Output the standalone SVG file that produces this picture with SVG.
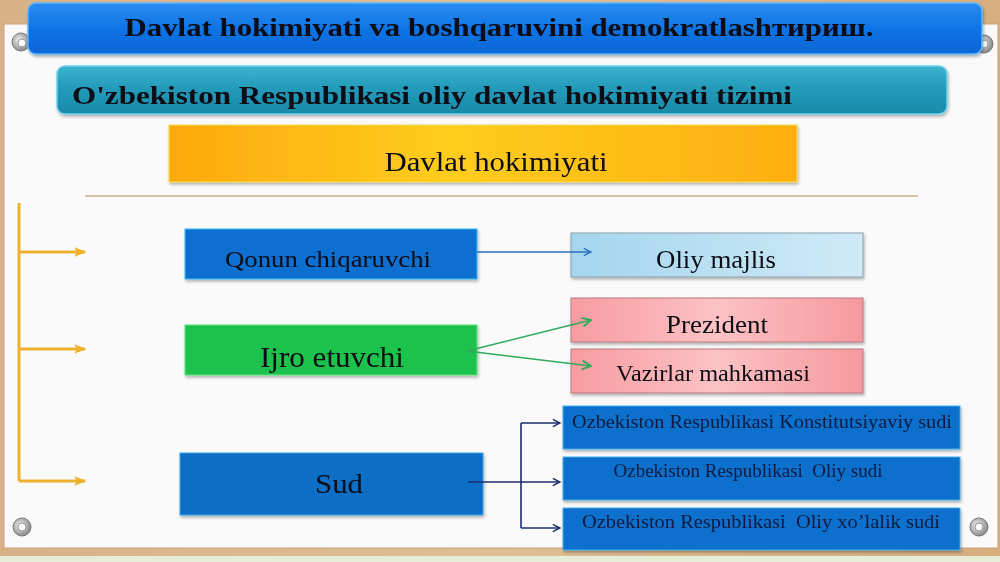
<svg xmlns="http://www.w3.org/2000/svg" width="1000" height="562" viewBox="0 0 1000 562">
<defs>
<linearGradient id="wood" x1="0" y1="0" x2="1" y2="0">
<stop offset="0" stop-color="#d8b286"/><stop offset="0.5" stop-color="#e0bf95"/><stop offset="1" stop-color="#d6ae80"/>
</linearGradient>
<linearGradient id="gTitle" x1="0" y1="0" x2="0" y2="1">
<stop offset="0" stop-color="#2a8cf2"/><stop offset="0.5" stop-color="#0f74e6"/><stop offset="1" stop-color="#0a66d6"/>
</linearGradient>
<linearGradient id="gTeal" x1="0" y1="0" x2="0" y2="1">
<stop offset="0" stop-color="#3bb3cf"/><stop offset="0.5" stop-color="#2299b8"/><stop offset="1" stop-color="#1a8aa8"/>
</linearGradient>
<linearGradient id="gOrange" x1="0" y1="0" x2="1" y2="0">
<stop offset="0" stop-color="#fca90e"/><stop offset="0.45" stop-color="#ffcd1e"/><stop offset="1" stop-color="#fcae10"/>
</linearGradient>
<linearGradient id="gLight" x1="0" y1="0" x2="1" y2="0">
<stop offset="0" stop-color="#a4d6ee"/><stop offset="1" stop-color="#d0eaf7"/>
</linearGradient>
<linearGradient id="gPink" x1="0" y1="0" x2="1" y2="0">
<stop offset="0" stop-color="#f79ca1"/><stop offset="0.5" stop-color="#fcc2c4"/><stop offset="1" stop-color="#f6999e"/>
</linearGradient>
<radialGradient id="gGrom" cx="0.4" cy="0.4" r="0.6">
<stop offset="0" stop-color="#f2f2f2"/><stop offset="1" stop-color="#8a8a8a"/>
</radialGradient>
<filter id="sh" x="-5%" y="-20%" width="110%" height="150%">
<feDropShadow dx="1" dy="2" stdDeviation="1.5" flood-color="#000" flood-opacity="0.3"/>
</filter>
<marker id="mBlue" viewBox="0 0 10 10" refX="9" refY="5" markerWidth="9" markerHeight="9" orient="auto" markerUnits="userSpaceOnUse">
<path d="M1,1 L9,5 L1,9" fill="none" stroke="#2a6fc0" stroke-width="1.6"/>
</marker>
<marker id="mGreen" viewBox="0 0 10 10" refX="9" refY="5" markerWidth="11" markerHeight="11" orient="auto" markerUnits="userSpaceOnUse">
<path d="M1,1 L9,5 L1,9" fill="none" stroke="#2faa5a" stroke-width="1.8"/>
</marker>
<marker id="mNavy" viewBox="0 0 10 10" refX="9" refY="5" markerWidth="9" markerHeight="9" orient="auto" markerUnits="userSpaceOnUse">
<path d="M1,1 L9,5 L1,9" fill="none" stroke="#1c2c6c" stroke-width="1.6"/>
</marker>
<marker id="mOrange" viewBox="0 0 10 10" refX="8" refY="5" markerWidth="15" markerHeight="15" orient="auto" markerUnits="userSpaceOnUse">
<path d="M1,1.8 L9,5 L1,8.2 L2.5,5 Z" fill="#efb12c"/>
</marker>
</defs>
<style>
text{font-family:"Liberation Serif","Times New Roman",Times,serif}
.bold{font-weight:bold}
.t{fill:#0b0b14}
.navy{fill:#0e1a40}
.grom{fill:url(#gGrom);stroke:#777;stroke-width:1}
.gromIn{fill:#fafafa;stroke:#999;stroke-width:1}
</style>

<!-- background -->
<rect x="0" y="0" width="1000" height="562" fill="url(#wood)"/>
<rect x="0" y="556" width="1000" height="6" fill="#e6ecd6"/>
<rect x="4" y="24" width="994" height="524" fill="#fafafa"/>
<rect x="4" y="24" width="994" height="524" fill="none" stroke="#c9a27a" stroke-width="1"/>

<!-- grommets -->
<g id="grommets">
<circle class="grom" cx="21" cy="42" r="9"/><circle class="gromIn" cx="22" cy="43" r="4"/>
<circle class="grom" cx="984" cy="44" r="9"/><circle class="gromIn" cx="984" cy="44" r="4"/>
<circle class="grom" cx="22" cy="527" r="9"/><circle class="gromIn" cx="22" cy="527" r="4"/>
<circle class="grom" cx="979" cy="527" r="9"/><circle class="gromIn" cx="979" cy="527" r="4"/>
</g>

<!-- title -->
<g id="title" filter="url(#sh)">
<rect x="28" y="3" width="954" height="51" rx="8" fill="url(#gTitle)" stroke="#5ab8ff" stroke-width="1.5"/>
<text class="bold t" x="499" y="36" font-family="Liberation Serif" font-size="26" text-anchor="middle" textLength="749" lengthAdjust="spacingAndGlyphs">Davlat hokimiyati va boshqaruvini demokratlashтириш.</text>
</g>

<g id="subtitle" filter="url(#sh)">
<rect x="57" y="66" width="890" height="48" rx="8" fill="url(#gTeal)" stroke="#6fd2ea" stroke-width="1.5"/>
<text class="bold t" x="72" y="104" font-family="Liberation Serif" font-size="26" textLength="720" lengthAdjust="spacingAndGlyphs">O'zbekiston Respublikasi oliy davlat hokimiyati tizimi</text>
</g>

<g id="davlat" filter="url(#sh)">
<rect x="169" y="125" width="628" height="57" fill="url(#gOrange)" stroke="#f5dc50" stroke-width="1"/>
<text class="t" x="496" y="171" font-family="Liberation Serif" font-size="27" text-anchor="middle" textLength="223" lengthAdjust="spacingAndGlyphs">Davlat hokimiyati</text>
</g>

<line x1="85" y1="196" x2="918" y2="196" stroke="#c8ae88" stroke-width="1.5"/>

<!-- left nodes -->
<g id="qonun" filter="url(#sh)">
<rect x="185" y="229" width="292" height="50" fill="#0b6fd0" stroke="#3cbaf0" stroke-width="1"/>
<text class="t" x="328" y="267" font-family="Liberation Serif" font-size="23" text-anchor="middle" textLength="206" lengthAdjust="spacingAndGlyphs">Qonun chiqaruvchi</text>
</g>
<g id="ijro" filter="url(#sh)">
<rect x="185" y="325" width="292" height="50" fill="#1cc24c" stroke="#5ee27e" stroke-width="1"/>
<text class="t" x="332" y="367" font-family="Liberation Serif" font-size="29" text-anchor="middle" textLength="144" lengthAdjust="spacingAndGlyphs">Ijro etuvchi</text>
</g>
<g id="sud" filter="url(#sh)">
<rect x="180" y="453" width="303" height="62" fill="#0a6ec6" stroke="#3aa6e6" stroke-width="1"/>
<text class="t" x="339" y="493" font-family="Liberation Serif" font-size="28" text-anchor="middle" textLength="48" lengthAdjust="spacingAndGlyphs">Sud</text>
</g>

<!-- right nodes -->
<g id="oliymajlis" filter="url(#sh)">
<rect x="571" y="233" width="292" height="44" fill="url(#gLight)" stroke="#8aa0aa" stroke-width="1"/>
<text class="t" x="716" y="268" font-family="Liberation Serif" font-size="25" text-anchor="middle" textLength="120" lengthAdjust="spacingAndGlyphs">Oliy majlis</text>
</g>
<g id="prezident" filter="url(#sh)">
<rect x="571" y="298" width="292" height="44" fill="url(#gPink)" stroke="#b8787c" stroke-width="1"/>
<text class="t" x="717" y="333" font-family="Liberation Serif" font-size="25" text-anchor="middle" textLength="102" lengthAdjust="spacingAndGlyphs">Prezident</text>
</g>
<g id="vazirlar" filter="url(#sh)">
<rect x="571" y="349" width="292" height="44" fill="url(#gPink)" stroke="#b8787c" stroke-width="1"/>
<text class="t" x="713" y="381" font-family="Liberation Serif" font-size="23" text-anchor="middle" textLength="194" lengthAdjust="spacingAndGlyphs">Vazirlar mahkamasi</text>
</g>
<g id="konstitutsiyaviy" filter="url(#sh)">
<rect x="563" y="406" width="397" height="43" fill="#0a70cc" stroke="#45b0ee" stroke-width="1"/>
<text class="navy" x="762" y="428" font-family="Liberation Serif" font-size="18" text-anchor="middle" textLength="380" lengthAdjust="spacingAndGlyphs">Ozbekiston Respublikasi Konstitutsiyaviy sudi</text>
</g>
<g id="oliysud" filter="url(#sh)">
<rect x="563" y="457" width="397" height="43" fill="#0a70cc" stroke="#45b0ee" stroke-width="1"/>
<text class="navy" x="748" y="477" font-family="Liberation Serif" font-size="18" text-anchor="middle" textLength="269" lengthAdjust="spacingAndGlyphs" xml:space="preserve">Ozbekiston Respublikasi  Oliy sudi</text>
</g>
<g id="xojalik" filter="url(#sh)">
<rect x="563" y="508" width="397" height="42" fill="#0a70cc" stroke="#45b0ee" stroke-width="1"/>
<text class="navy" x="761" y="528" font-family="Liberation Serif" font-size="18" text-anchor="middle" textLength="358" lengthAdjust="spacingAndGlyphs" xml:space="preserve">Ozbekiston Respublikasi  Oliy xo’lalik sudi</text>
</g>

<!-- connectors -->
<g id="connectors" fill="none">
<path d="M19,481 L19,203" stroke="#efb12c" stroke-width="3"/>
<path d="M19,252 L85,252" stroke="#efb12c" stroke-width="3" marker-end="url(#mOrange)"/>
<path d="M19,349 L85,349" stroke="#efb12c" stroke-width="3" marker-end="url(#mOrange)"/>
<path d="M19,481 L85,481" stroke="#efb12c" stroke-width="3" marker-end="url(#mOrange)"/>
<path d="M477,252 L591,252" stroke="#2a6fc0" stroke-width="1.5" marker-end="url(#mBlue)"/>
<path d="M467,351 L591,320" stroke="#2faa5a" stroke-width="1.6" marker-end="url(#mGreen)"/>
<path d="M467,351 L591,366" stroke="#2faa5a" stroke-width="1.6" marker-end="url(#mGreen)"/>
<path d="M468,482 L521,482" stroke="#1c2c6c" stroke-width="1.6"/>
<path d="M521,423 L521,528" stroke="#1c2c6c" stroke-width="1.6"/>
<path d="M521,423 L560,423" stroke="#1c2c6c" stroke-width="1.6" marker-end="url(#mNavy)"/>
<path d="M521,482 L560,482" stroke="#1c2c6c" stroke-width="1.6" marker-end="url(#mNavy)"/>
<path d="M521,528 L560,528" stroke="#1c2c6c" stroke-width="1.6" marker-end="url(#mNavy)"/>
</g>
</svg>
